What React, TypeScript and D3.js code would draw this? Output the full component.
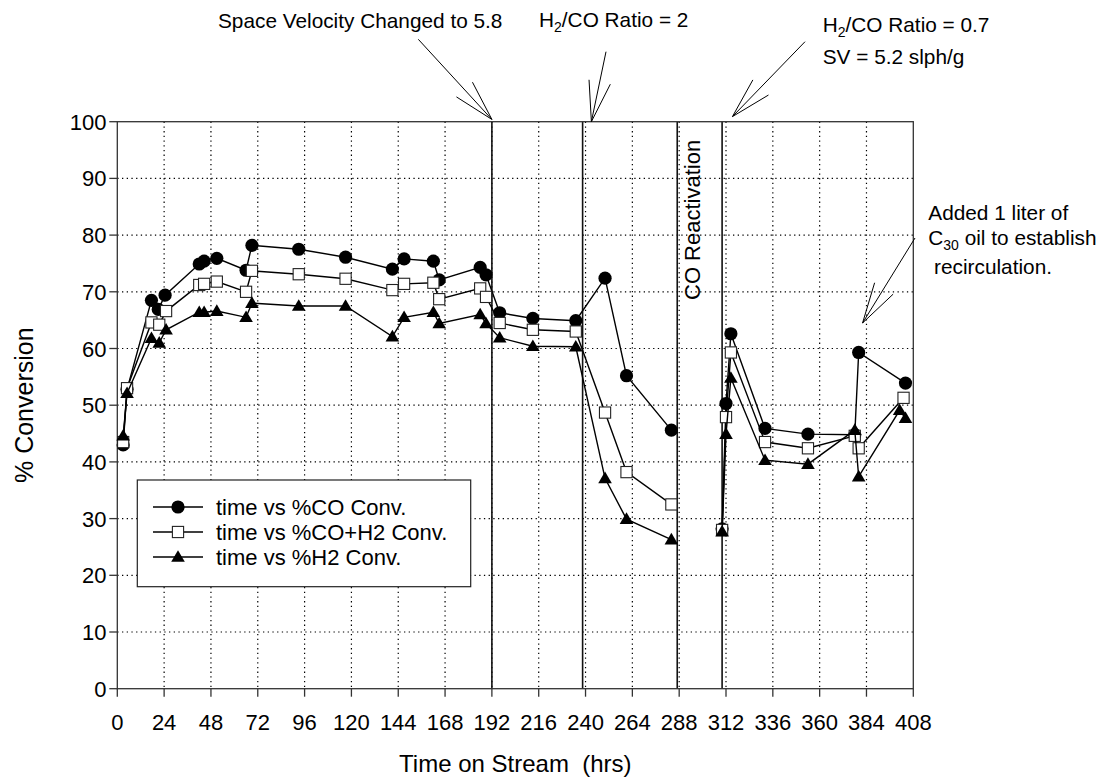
import React from "react";
import * as d3 from "d3";

// Time on stream (hrs) and % conversion for each series
const coHours = [3, 5, 17.5, 21, 24.5, 42, 44.5, 51, 66, 69, 93, 117, 141, 147, 162, 165, 186, 189, 196, 213, 235, 250, 261, 284, 310, 312, 314.5, 332, 354, 378, 380, 404];
const coConv = [43.0, 52.8, 68.5, 66.9, 69.4, 74.9, 75.4, 75.9, 73.8, 78.2, 77.5, 76.1, 74.0, 75.8, 75.4, 72.1, 74.3, 73.0, 66.3, 65.3, 64.9, 72.4, 55.2, 45.6, 28.2, 50.3, 62.6, 45.9, 44.9, 44.8, 59.3, 53.9];

const synHours = [3, 5, 17.5, 21.5, 25, 42, 44.5, 51, 66, 69, 93, 117, 141, 147, 162, 165, 186, 189, 196, 213, 235, 250, 261, 284, 310, 312, 314.5, 332, 354, 378, 380, 403];
const synConv = [43.5, 53.0, 64.6, 64.2, 66.6, 71.2, 71.4, 71.8, 70.0, 73.7, 73.1, 72.3, 70.3, 71.4, 71.6, 68.7, 70.6, 69.1, 64.5, 63.3, 63.0, 48.7, 38.2, 32.5, 28.0, 47.9, 59.3, 43.5, 42.4, 44.6, 42.4, 51.3];

const h2Hours = [3, 5, 17.5, 21.5, 25, 42, 44.5, 51, 66, 69, 93, 117, 141, 147, 162, 165, 186, 189, 196, 213, 235, 250, 261, 284, 310, 312, 314.5, 332, 354, 378, 380, 401, 404];
const h2Conv = [44.6, 52.1, 61.8, 61.0, 63.3, 66.4, 66.4, 66.6, 65.5, 68.0, 67.5, 67.5, 62.1, 65.5, 66.4, 64.4, 66.0, 64.4, 61.9, 60.4, 60.3, 37.1, 29.9, 26.3, 27.7, 44.9, 54.8, 40.3, 39.6, 45.6, 37.4, 49.1, 47.7];

const seriesNames = ["time vs %CO Conv.", "time vs %CO+H2 Conv.", "time vs %H2 Conv."];

// Process changes marked as vertical lines (hrs)
const eventHours = [192, 238.5, 287, 310];
// The run restarts after the CO reactivation: lines are not joined across it
const reactivationHour = 287;

const xTicks = d3.range(0, 409, 24);
const yTicks = d3.range(0, 101, 10);

const FONT = "'Liberation Sans', Arial, Helvetica, sans-serif";

const W = 1112;
const H = 781;
const left = 117.3;
const right = 913.3;
const top = 121.7;
const bottom = 688.7;

type Shape = "circle" | "square" | "triangle";

function Marker({ shape, x, y }: { shape: Shape; x: number; y: number }) {
  if (shape === "circle") return <circle cx={x} cy={y} r={6.6} fill="#000" />;
  if (shape === "square")
    return <rect x={x - 5.6} y={y - 5.6} width={11.2} height={11.2} fill="#fff" stroke="#222" strokeWidth={1.1} />;
  return (
    <path
      d={`M${x},${y - 6.8}L${x + 6.8},${y + 4.8}L${x - 6.8},${y + 4.8}Z`}
      fill="#000"
    />
  );
}

function Arrow({ x1, y1, x2, y2 }: { x1: number; y1: number; x2: number; y2: number }) {
  const ang = Math.atan2(y2 - y1, x2 - x1);
  const len = 42;
  const spread = (15 * Math.PI) / 180;
  const b1 = [x2 - len * Math.cos(ang - spread), y2 - len * Math.sin(ang - spread)];
  const b2 = [x2 - len * Math.cos(ang + spread), y2 - len * Math.sin(ang + spread)];
  return (
    <g stroke="#000" strokeWidth={1} fill="none">
      <line x1={x1} y1={y1} x2={x2} y2={y2} />
      <line x1={b1[0]} y1={b1[1]} x2={x2} y2={y2} />
      <line x1={b2[0]} y1={b2[1]} x2={x2} y2={y2} />
    </g>
  );
}

export default function App() {
  const x = d3.scaleLinear().domain([0, 408]).range([left, right]);
  const y = d3.scaleLinear().domain([0, 100]).range([bottom, top]);

  const series: { hours: number[]; conv: number[]; shape: Shape }[] = [
    { hours: coHours, conv: coConv, shape: "circle" },
    { hours: synHours, conv: synConv, shape: "square" },
    { hours: h2Hours, conv: h2Conv, shape: "triangle" },
  ];

  const line = d3
    .line<[number, number]>()
    .x((d) => x(d[0]))
    .y((d) => y(d[1]));

  const fs = 22;

  return (
    <svg
      width={W}
      height={H}
      style={{ position: "absolute", left: 0, top: 0, display: "block", background: "#fff" }}
      fontFamily={FONT}
    >
      <rect width={W} height={H} fill="#fff" />

      {/* dotted grid */}
      <g stroke="#000" strokeWidth={1.2} strokeDasharray="1.3,3.4">
        {xTicks
          .filter((t) => t > 0 && t < 408)
          .map((t) => (
            <line key={"gx" + t} x1={x(t)} x2={x(t)} y1={top} y2={bottom} />
          ))}
        {yTicks
          .filter((t) => t > 0 && t < 100)
          .map((t) => (
            <line key={"gy" + t} x1={left} x2={right} y1={y(t)} y2={y(t)} />
          ))}
      </g>

      {/* event lines */}
      <g stroke="#111" strokeWidth={1.6}>
        {eventHours.map((h) => (
          <line key={"ev" + h} x1={x(h)} x2={x(h)} y1={top} y2={bottom} />
        ))}
      </g>

      {/* frame */}
      <rect x={left} y={top} width={right - left} height={bottom - top} fill="none" stroke="#333" strokeWidth={1.3} />

      {/* axes ticks and labels */}
      <g stroke="#333" strokeWidth={1.3}>
        {xTicks.map((t) => (
          <line key={"tx" + t} x1={x(t)} x2={x(t)} y1={bottom} y2={bottom + 8} />
        ))}
        {yTicks.map((t) => (
          <line key={"ty" + t} x1={left - 8} x2={left} y1={y(t)} y2={y(t)} />
        ))}
      </g>
      <g fontSize={fs} fill="#000">
        {xTicks.map((t) => (
          <text key={"lx" + t} x={x(t)} y={730} textAnchor="middle">
            {t}
          </text>
        ))}
        {yTicks.map((t) => (
          <text key={"ly" + t} x={106.5} y={y(t) + 8} textAnchor="end">
            {t}
          </text>
        ))}
      </g>

      <text x={(left + right) / 2} y={772} fontSize={24} textAnchor="middle" fill="#000" style={{ whiteSpace: "pre" }}>
        {"Time on Stream  (hrs)"}
      </text>
      <text transform={`translate(33,${(top + bottom) / 2}) rotate(-90)`} fontSize={25} textAnchor="middle" fill="#000">
        % Conversion
      </text>

      {/* series */}
      {series.map((s, i) => {
        const pts = s.hours.map((h, j) => [h, s.conv[j]] as [number, number]);
        const before = pts.filter((p) => p[0] < reactivationHour);
        const after = pts.filter((p) => p[0] > reactivationHour);
        return (
          <g key={"s" + i}>
            <path d={line(before) || ""} fill="none" stroke="#000" strokeWidth={1.4} />
            <path d={line(after) || ""} fill="none" stroke="#000" strokeWidth={1.4} />
            {pts.map((p, j) => (
              <Marker key={j} shape={s.shape} x={x(p[0])} y={y(p[1])} />
            ))}
          </g>
        );
      })}

      {/* legend */}
      <g>
        <rect x={137.3} y={480} width={333.4} height={106.7} fill="#fff" stroke="#222" strokeWidth={1.2} />
        {series.map((s, i) => {
          const ly = 507 + i * 25;
          return (
            <g key={"lg" + i}>
              <line x1={153} x2={203} y1={ly} y2={ly} stroke="#000" strokeWidth={1.4} />
              <Marker shape={s.shape} x={178} y={ly} />
              <text x={216} y={ly + 8} fontSize={fs} fill="#000">
                {seriesNames[i]}
              </text>
            </g>
          );
        })}
      </g>

      {/* annotations */}
      <g fontSize={20.8} fill="#000">
        <text x={218} y={28}>Space Velocity Changed to 5.8</text>
        <text x={539} y={27}>
          H<tspan fontSize={14} dy={5}>2</tspan>
          <tspan dy={-5}>/CO Ratio = 2</tspan>
        </text>
        <text x={822.7} y={32}>
          H<tspan fontSize={14} dy={5}>2</tspan>
          <tspan dy={-5}>/CO Ratio = 0.7</tspan>
        </text>
        <text x={822.7} y={64}>SV = 5.2 slph/g</text>
        <text x={928.3} y={220}>Added 1 liter of</text>
        <text x={928.3} y={245}>
          C<tspan fontSize={14} dy={5}>30</tspan>
          <tspan dy={-5}> oil to establish</tspan>
        </text>
        <text x={928.3} y={274} style={{ whiteSpace: "pre" }}>
          {" recirculation."}
        </text>
        <text transform={`translate(700,300) rotate(-90)`} fontSize={22}>CO Reactivation</text>
      </g>

      <Arrow x1={418.3} y1={39.3} x2={x(192)} y2={y(100.4)} />
      <Arrow x1={606} y1={51.7} x2={x(243)} y2={y(100)} />
      <Arrow x1={805} y1={41.7} x2={x(315.3)} y2={y(100.9)} />
      <Arrow x1={915} y1={238} x2={x(382)} y2={y(64.5)} />
    </svg>
  );
}
